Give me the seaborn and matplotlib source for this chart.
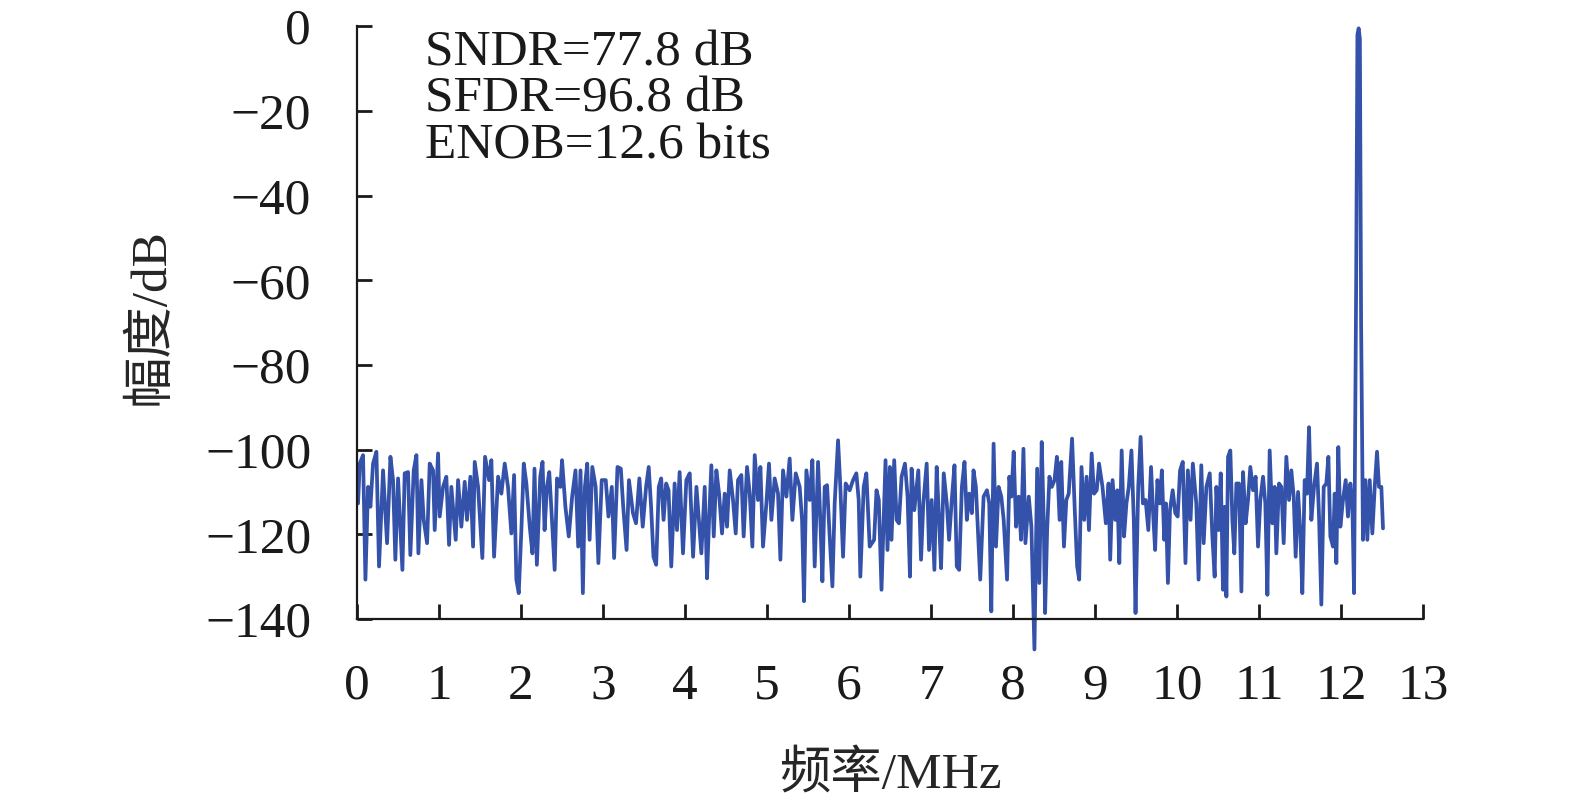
import numpy as np
import pandas as pd
import matplotlib
matplotlib.use('Agg')
import matplotlib.pyplot as plt
import seaborn as sns

# frequency points (MHz) and amplitude (dB)
freq = [
    0.012, 0.033, 0.073, 0.102, 0.134, 0.163, 0.195, 0.236, 0.268, 0.317,
    0.366, 0.407, 0.439, 0.467, 0.500, 0.553, 0.581, 0.622, 0.650, 0.691,
    0.724, 0.748, 0.785, 0.813, 0.854, 0.886, 0.927, 0.947, 0.988, 1.008,
    1.049, 1.089, 1.122, 1.150, 1.203, 1.232, 1.272, 1.313, 1.341, 1.382,
    1.415, 1.435, 1.476, 1.528, 1.561, 1.610, 1.638, 1.671, 1.720, 1.760,
    1.801, 1.841, 1.882, 1.915, 1.943, 1.972, 2.004, 2.033, 2.065, 2.106,
    2.139, 2.164, 2.193, 2.234, 2.262, 2.287, 2.316, 2.344, 2.377, 2.410,
    2.439, 2.480, 2.500, 2.541, 2.582, 2.623, 2.664, 2.697, 2.725, 2.754,
    2.779, 2.807, 2.836, 2.869, 2.910, 2.943, 2.984, 3.033, 3.066, 3.107,
    3.135, 3.176, 3.217, 3.246, 3.287, 3.316, 3.365, 3.402, 3.443, 3.484,
    3.525, 3.557, 3.586, 3.615, 3.648, 3.680, 3.709, 3.738, 3.770, 3.799,
    3.832, 3.873, 3.902, 3.934, 3.975, 4.016, 4.057, 4.098, 4.139, 4.199,
    4.240, 4.268, 4.293, 4.321, 4.350, 4.382, 4.415, 4.451, 4.484, 4.512,
    4.545, 4.585, 4.618, 4.646, 4.687, 4.715, 4.756, 4.789, 4.821, 4.850,
    4.890, 4.919, 4.951, 4.992, 5.024, 5.053, 5.093, 5.134, 5.163, 5.195,
    5.236, 5.276, 5.309, 5.350, 5.398, 5.427, 5.451, 5.480, 5.520, 5.553,
    5.581, 5.622, 5.650, 5.675, 5.703, 5.732, 5.764, 5.797, 5.825, 5.866,
    5.894, 5.927, 5.959, 6.008, 6.049, 6.089, 6.118, 6.138, 6.179, 6.211,
    6.252, 6.306, 6.335, 6.363, 6.396, 6.429, 6.445, 6.469, 6.498, 6.518,
    6.551, 6.580, 6.608, 6.641, 6.682, 6.714, 6.743, 6.763, 6.796, 6.845,
    6.878, 6.906, 6.947, 6.976, 7.008, 7.041, 7.069, 7.098, 7.122, 7.155,
    7.192, 7.220, 7.253, 7.286, 7.314, 7.343, 7.376, 7.408, 7.437, 7.465,
    7.498, 7.518, 7.547, 7.600, 7.641, 7.682, 7.710, 7.735, 7.763, 7.792,
    7.824, 7.857, 7.886, 7.927, 7.955, 7.980, 8.008, 8.037, 8.069, 8.098,
    8.127, 8.151, 8.192, 8.224, 8.261, 8.294, 8.321, 8.350, 8.374, 8.391,
    8.416, 8.444, 8.473, 8.506, 8.535, 8.568, 8.588, 8.621, 8.650, 8.679,
    8.720, 8.753, 8.782, 8.807, 8.835, 8.868, 8.897, 8.926, 8.959, 8.988,
    9.021, 9.049, 9.091, 9.132, 9.165, 9.185, 9.214, 9.247, 9.272, 9.296,
    9.325, 9.354, 9.383, 9.412, 9.444, 9.473, 9.494, 9.527, 9.556, 9.584,
    9.617, 9.650, 9.683, 9.708, 9.733, 9.761, 9.790, 9.815, 9.844, 9.864,
    9.889, 9.914, 9.947, 9.979, 10.008, 10.037, 10.070, 10.103, 10.132, 10.165,
    10.193, 10.235, 10.263, 10.296, 10.325, 10.358, 10.399, 10.431, 10.459, 10.480,
    10.508, 10.533, 10.561, 10.581, 10.602, 10.622, 10.650, 10.675, 10.699, 10.724,
    10.756, 10.785, 10.805, 10.837, 10.866, 10.894, 10.927, 10.959, 10.988, 11.016,
    11.049, 11.077, 11.102, 11.130, 11.163, 11.191, 11.211, 11.244, 11.272, 11.301,
    11.333, 11.366, 11.394, 11.423, 11.447, 11.476, 11.504, 11.528, 11.557, 11.585,
    11.610, 11.638, 11.671, 11.707, 11.732, 11.760, 11.789, 11.821, 11.846, 11.870,
    11.902, 11.923, 11.943, 11.967, 11.992, 12.024, 12.057, 12.085, 12.114, 12.138,
    12.159, 12.185, 12.200, 12.215, 12.230, 12.245, 12.268, 12.297, 12.321, 12.350,
    12.382, 12.411, 12.439, 12.463, 12.492, 12.512,
]

amp = [
    -112.7, -103.3, -101.3, -130.7, -108.8, -113.5, -103.3, -100.5, -127.6, -104.9,
    -122.1, -101.7, -107.2, -126.0, -106.8, -128.4, -105.6, -105.3, -124.9, -104.9,
    -101.3, -124.5, -107.2, -116.6, -122.1, -103.3, -104.9, -119.0, -100.9, -115.8,
    -108.8, -106.4, -122.5, -108.8, -121.3, -107.2, -118.2, -107.6, -116.6, -106.4,
    -122.9, -102.9, -108.8, -125.6, -101.7, -107.2, -102.5, -125.3, -106.4, -110.4,
    -103.3, -108.8, -119.8, -106.0, -130.7, -133.9, -119.0, -103.3, -108.0, -118.2,
    -124.5, -104.5, -127.2, -106.4, -102.9, -119.0, -108.8, -105.3, -116.6, -128.4,
    -106.8, -108.8, -102.5, -113.5, -120.5, -111.1, -104.9, -122.9, -104.9, -133.9,
    -108.8, -103.3, -121.3, -104.1, -108.8, -126.8, -107.2, -107.2, -115.8, -108.8,
    -125.6, -104.1, -104.5, -113.5, -123.7, -107.2, -115.0, -117.4, -106.8, -118.2,
    -108.8, -104.1, -113.5, -125.3, -127.2, -108.8, -106.8, -116.6, -108.0, -109.6,
    -127.6, -108.0, -119.0, -105.3, -124.5, -107.2, -105.6, -125.3, -108.8, -124.5,
    -108.8, -130.4, -116.6, -103.7, -120.5, -104.9, -110.4, -119.8, -110.4, -118.2,
    -104.9, -111.9, -119.8, -107.2, -106.0, -120.5, -104.1, -110.4, -122.9, -101.3,
    -111.9, -104.1, -122.9, -112.7, -103.3, -116.6, -106.8, -110.4, -126.0, -104.9,
    -111.1, -102.1, -116.6, -105.6, -108.8, -116.6, -135.8, -104.9, -111.9, -102.5,
    -127.6, -102.9, -116.6, -131.1, -108.8, -108.4, -120.5, -132.3, -112.7, -97.8,
    -108.8, -125.3, -108.0, -109.6, -107.2, -105.6, -111.9, -130.0, -108.8, -105.6,
    -122.9, -121.3, -109.6, -111.9, -133.1, -112.7, -102.5, -123.7, -104.1, -121.3,
    -102.5, -116.6, -117.4, -106.4, -103.3, -111.1, -130.0, -104.5, -114.3, -104.9,
    -126.0, -112.7, -103.3, -123.7, -111.9, -128.4, -104.1, -116.6, -128.0, -105.6,
    -112.7, -121.3, -111.9, -103.7, -127.6, -128.4, -108.8, -102.9, -116.6, -110.4,
    -115.0, -104.9, -108.8, -130.7, -111.1, -109.6, -112.7, -138.2, -98.6, -122.9,
    -108.8, -111.1, -116.6, -130.7, -106.4, -111.1, -100.5, -118.2, -111.1, -121.3,
    -99.8, -122.1, -111.1, -118.2, -147.2, -104.5, -131.5, -98.2, -116.6, -138.6,
    -119.0, -106.4, -108.8, -107.2, -101.7, -116.6, -102.9, -122.9, -111.9, -110.4,
    -97.4, -114.3, -127.6, -130.7, -104.1, -116.6, -106.4, -119.0, -100.9, -110.4,
    -109.6, -103.3, -108.8, -117.4, -108.0, -126.0, -107.2, -116.6, -109.6, -126.8,
    -100.2, -120.5, -112.7, -108.8, -100.2, -116.6, -138.6, -108.8, -97.0, -112.7,
    -111.9, -119.0, -104.1, -115.0, -123.7, -107.2, -112.7, -104.9, -121.3, -112.7,
    -131.5, -114.3, -109.6, -115.0, -115.8, -104.9, -102.9, -126.8, -104.9, -116.6,
    -103.3, -112.7, -130.7, -103.7, -122.1, -108.8, -105.6, -120.5, -130.0, -108.8,
    -119.0, -105.6, -133.1, -113.5, -134.7, -101.7, -100.2, -116.6, -124.5, -108.0,
    -108.0, -133.5, -105.3, -117.4, -111.9, -104.1, -109.6, -106.4, -122.9, -111.9,
    -106.4, -112.7, -134.3, -100.2, -117.4, -108.8, -124.5, -108.0, -108.8, -122.1,
    -101.7, -111.9, -104.9, -111.1, -125.3, -110.0, -119.8, -133.9, -107.2, -110.4,
    -94.7, -116.6, -108.8, -103.3, -115.8, -136.6, -108.8, -108.0, -101.7, -120.5,
    -122.9, -110.4, -126.8, -99.4, -118.2, -111.9, -107.2, -115.8, -108.0, -112.7,
    -133.9, -60.0, -2.0, -0.5, -3.0, -70.0, -121.3, -107.2, -121.3, -107.2,
    -119.8, -108.8, -100.5, -108.8, -108.8, -118.6,
]

metrics = ['SNDR=77.8 dB', 'SFDR=96.8 dB', 'ENOB=12.6 bits']
xticks = list(range(0, 14))
yticks = list(range(-140, 1, 20))

df = pd.DataFrame({'freq': freq, 'amp': amp})

sns.set_style('ticks')
plt.rcParams['font.family'] = ['Liberation Serif', 'Noto Sans CJK SC']
plt.rcParams['axes.unicode_minus'] = True

fig = plt.figure(figsize=(15.75, 7.99), dpi=100)
ax = fig.add_axes([0.2267, 0.2253, 0.6768, 0.7419])

sns.lineplot(data=df, x='freq', y='amp', ax=ax, color='#3452a9',
             linewidth=2.7, estimator=None)
for l in ax.lines:
    l.set_clip_on(False)

ax.set_xlim(0, 13)
ax.set_ylim(-140, 0)
ax.set_xticks(xticks)
ax.set_yticks(yticks)
ax.set_xticklabels([str(t) for t in xticks])
ax.set_yticklabels(['\u2212' + str(-t) if t < 0 else str(t) for t in yticks])

for s in ['top', 'right']:
    ax.spines[s].set_visible(False)
for s in ['left', 'bottom']:
    ax.spines[s].set_linewidth(1.6)
    ax.spines[s].set_color('#1a1a1a')

ax.tick_params(axis='both', direction='in', length=11, width=2,
               colors='#1a1a1a', labelsize=37)
ax.tick_params(axis='x', pad=32)
ax.tick_params(axis='y', pad=33)

ax.set_xlabel('频率/MHz', fontsize=37, va='center')
ax.set_ylabel('幅度/dB', fontsize=37, va='center')
ax.xaxis.set_label_coords(0.5, -0.263)
ax.yaxis.set_label_coords(-0.193, 0.51)

for i, t in enumerate(metrics):
    ax.text(0.064, 0.955 - i * 0.079, t, transform=ax.transAxes,
            fontsize=37, va='center', ha='left', color='#1a1a1a')

fig.savefig('out.png', dpi=100)
